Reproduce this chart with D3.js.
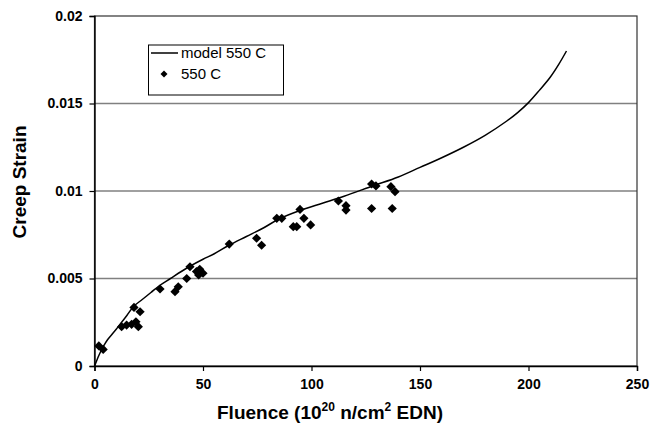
<!DOCTYPE html>
<html><head><meta charset="utf-8">
<script src="https://cdn.jsdelivr.net/npm/d3@7"></script>
<style>body{margin:0;background:#fff}svg{display:block}</style>
</head><body><svg id="c" width="654" height="430"></svg>
<script>
// model curve (fluence, strain)
const modelFluence = [0,1,2,4,6,8,10,12.5,15,18,22,26,30,35,40,44,50,55,62,70,78,85,95,105,115,128.5,140,150,160,170,180,190,195,200,205,210,214,217.5];
const modelStrain  = [0,0.0003,0.0006,0.0011,0.0015,0.0018,0.0021,0.0025,0.0029,0.0034,0.0038,0.0042,0.0046,0.0050,0.0054,0.0057,0.0061,0.0064,0.0069,0.0074,0.0079,0.0084,0.0089,0.0093,0.0097,0.0103,0.0108,0.01135,0.0119,0.0125,0.01318,0.0140,0.01448,0.01505,0.01575,0.0165,0.01725,0.0180];
// measured 550 C data
const dataFluence = [2,4,12.5,14.8,17.1,19.1,20.2,18.2,21,30.2,37.1,38.6,42.5,44,47,48.5,50,48,62.1,74.7,77,84,86.3,94.7,91.6,93.2,96.5,99.6,112.4,115.9,115.9,127.7,127.7,129.7,136.6,138.5,137.2];
const dataStrain  = [0.00115,0.00095,0.00225,0.00234,0.00238,0.00253,0.00225,0.00335,0.0031,0.0044,0.00425,0.00453,0.0050,0.00567,0.0054,0.00553,0.0053,0.0052,0.00697,0.0073,0.0069,0.00844,0.00844,0.00895,0.00796,0.00796,0.00844,0.00806,0.00943,0.00916,0.00891,0.0090,0.0104,0.01029,0.01025,0.00996,0.0090];
const xTicks = [0,50,100,150,200,250];
const yTicks = [0,0.005,0.01,0.015,0.02];
const yTickLabels = ["0","0.005","0.01","0.015","0.02"];
const legendLabels = ["model 550 C","550 C"];

const svg = d3.select("#c");
const L=94.5, R=637, T=16, B=366;
const x = d3.scaleLinear().domain([0,250]).range([L,R]);
const y = d3.scaleLinear().domain([0,0.02]).range([B,T]);
const font = "Liberation Sans, Arial, Helvetica, sans-serif";

// gridlines
svg.append("g").selectAll("line").data(yTicks.slice(1,-1)).join("line")
  .attr("x1",L).attr("x2",R).attr("y1",d=>y(d)).attr("y2",d=>y(d))
  .attr("stroke","#808080").attr("stroke-width",1.3);
// frame
svg.append("rect").attr("x",L).attr("y",T).attr("width",R-L).attr("height",B-T)
  .attr("fill","none").attr("stroke","#333").attr("stroke-width",1.2);

// axes
const yAxis = d3.axisLeft(y).tickValues(yTicks).tickFormat((d,i)=>yTickLabels[i]).tickSize(5).tickPadding(7);
const gy = svg.append("g").attr("transform",`translate(${L},0)`).call(yAxis);
const xAxis = d3.axisBottom(x).tickValues(xTicks).tickSize(5).tickPadding(8);
const gx = svg.append("g").attr("transform",`translate(0,${B})`).call(xAxis);
[gx,gy].forEach(g=>{
  g.select(".domain").attr("stroke","#000").attr("stroke-width",1.4);
  g.selectAll(".tick line").attr("stroke","#000").attr("stroke-width",1.2);
  g.selectAll("text").attr("font-family",font).attr("font-weight","bold").attr("font-size",14).attr("fill","#000");
});

// model line
const pts = modelFluence.map((f,i)=>[f,modelStrain[i]]);
svg.append("path").datum(pts)
  .attr("d", d3.line().x(d=>x(d[0])).y(d=>y(d[1])).curve(d3.curveCatmullRom.alpha(0.5)))
  .attr("fill","none").attr("stroke","#000").attr("stroke-width",1.5);

// data diamonds
const dia = r=>`M0,${-r}L${r},0L0,${r}L${-r},0Z`;
svg.append("g").selectAll("path").data(dataFluence.map((f,i)=>[f,dataStrain[i]])).join("path")
  .attr("d",dia(4.6)).attr("transform",d=>`translate(${x(d[0])},${y(d[1])})`).attr("fill","#000");

// axis titles
svg.append("text").attr("transform",`translate(26,182) rotate(-90)`)
  .attr("text-anchor","middle").attr("font-family",font).attr("font-weight","bold").attr("font-size",19)
  .text("Creep Strain");
const xt = svg.append("text").attr("x",330).attr("y",419).attr("text-anchor","middle")
  .attr("font-family",font).attr("font-weight","bold").attr("font-size",19);
xt.append("tspan").text("Fluence (10");
xt.append("tspan").attr("dy",-8).attr("font-size",12).text("20");
xt.append("tspan").attr("dy",8).text(" n/cm");
xt.append("tspan").attr("dy",-8).attr("font-size",12).text("2");
xt.append("tspan").attr("dy",8).text(" EDN)");

// legend
const lg = svg.append("g");
lg.append("rect").attr("x",148.5).attr("y",45).attr("width",135).attr("height",50)
  .attr("fill","#fff").attr("stroke","#000").attr("stroke-width",1);
lg.append("line").attr("x1",151).attr("x2",178).attr("y1",53).attr("y2",53).attr("stroke","#000").attr("stroke-width",1.5);
lg.append("path").attr("d",dia(3.5)).attr("transform","translate(164,74)").attr("fill","#000");
lg.selectAll("text").data(legendLabels).join("text")
  .attr("x",181).attr("y",(d,i)=>58+i*21).attr("font-family",font).attr("font-size",15).attr("fill","#000")
  .text(d=>d);
</script></body></html>
